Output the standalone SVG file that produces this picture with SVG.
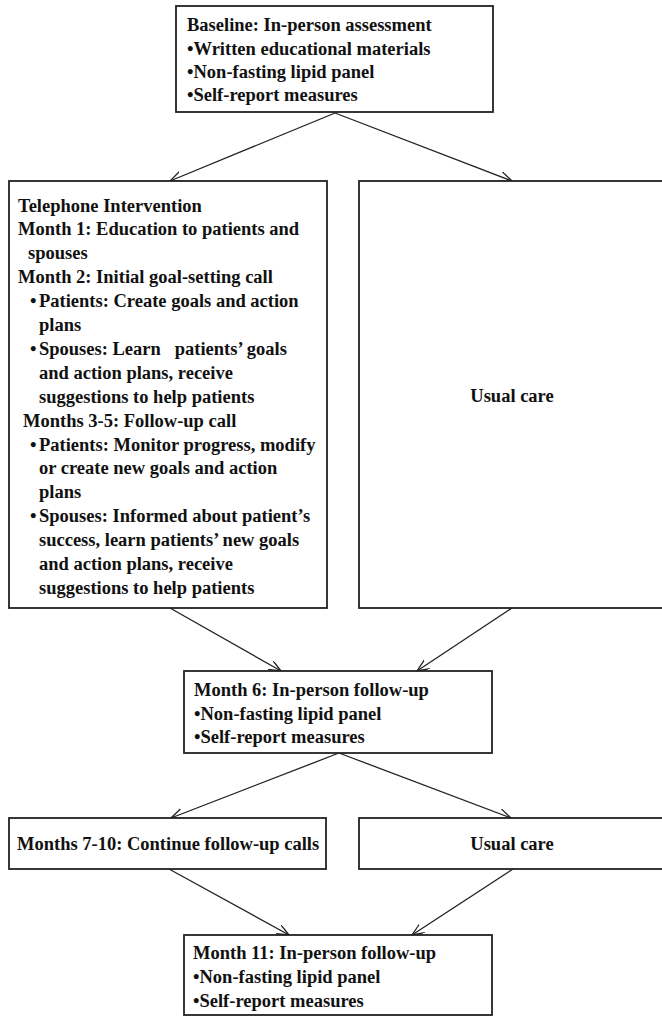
<svg xmlns="http://www.w3.org/2000/svg" width="662" height="1018" viewBox="0 0 662 1018">
<style>
.box{fill:#fff;stroke:#222;stroke-width:1.8}
.t{font-family:"Liberation Serif","Times New Roman",serif;font-weight:bold;font-size:18.5px;fill:#111}
.c{text-anchor:middle}
.conn{stroke:#222;stroke-width:1.3;fill:none;marker-end:url(#arr)}
</style>
<defs>
<marker id="arr" markerUnits="userSpaceOnUse" markerWidth="14" markerHeight="12" refX="12" refY="5" orient="auto">
<path d="M0,0 L12,5 L0,10" fill="none" stroke="#222" stroke-width="1.3"/>
</marker>
</defs>
<rect width="662" height="1018" fill="#fff"/>
<g id="connectors">
<line class="conn" x1="335" y1="113" x2="170" y2="181"/>
<line class="conn" x1="335" y1="113" x2="512" y2="181"/>
<line class="conn" x1="170" y1="608" x2="281" y2="671"/>
<line class="conn" x1="512" y1="608" x2="417" y2="671"/>
<line class="conn" x1="339" y1="753" x2="171" y2="818"/>
<line class="conn" x1="339" y1="753" x2="511" y2="818"/>
<line class="conn" x1="169" y1="869" x2="289" y2="935"/>
<line class="conn" x1="513" y1="869" x2="412" y2="935"/>
</g>
<g id="baseline">
<rect class="box" x="176" y="6" width="317" height="106"/>
<text class="t" x="187" y="31">Baseline: In-person assessment</text>
<text class="t" x="187" y="54.5">•Written educational materials</text>
<text class="t" x="187" y="77.5">•Non-fasting lipid panel</text>
<text class="t" x="187" y="100.5">•Self-report measures</text>
</g>
<g id="telephone">
<rect class="box" x="9" y="181" width="318" height="427"/>
<text class="t" x="18" y="211.5">Telephone Intervention</text>
<text class="t" x="18" y="235.4">Month 1: Education to patients and</text>
<text class="t" x="28" y="259.3">spouses</text>
<text class="t" x="18" y="283.2">Month 2: Initial goal-setting call</text>
<text class="t" x="30" y="307.1">•</text>
<text class="t" x="39" y="307.1">Patients: Create goals and action</text>
<text class="t" x="39" y="331">plans</text>
<text class="t" x="30" y="354.9">•</text>
<text class="t" x="39" y="354.9" xml:space="preserve">Spouses: Learn   patients’ goals</text>
<text class="t" x="39" y="378.8">and action plans, receive</text>
<text class="t" x="39" y="402.7">suggestions to help patients</text>
<text class="t" x="23" y="426.6">Months 3-5: Follow-up call</text>
<text class="t" x="30" y="450.5">•</text>
<text class="t" x="39" y="450.5">Patients: Monitor progress, modify</text>
<text class="t" x="39" y="474.4">or create new goals and action</text>
<text class="t" x="39" y="498.3">plans</text>
<text class="t" x="30" y="522.2">•</text>
<text class="t" x="39" y="522.2">Spouses: Informed about patient’s</text>
<text class="t" x="39" y="546.1">success, learn patients’ new goals</text>
<text class="t" x="39" y="570">and action plans, receive</text>
<text class="t" x="39" y="593.9">suggestions to help patients</text>
</g>
<g id="usualcare1">
<rect class="box" x="359" y="181" width="312" height="427"/>
<text class="t c" x="512" y="402">Usual care</text>
</g>
<g id="month6">
<rect class="box" x="184" y="671" width="308" height="82"/>
<text class="t" x="194" y="696">Month 6: In-person follow-up</text>
<text class="t" x="194" y="719.5">•Non-fasting lipid panel</text>
<text class="t" x="194" y="743">•Self-report measures</text>
</g>
<g id="months7-10">
<rect class="box" x="9" y="818" width="317" height="51"/>
<text class="t" x="17" y="850">Months 7-10: Continue follow-up calls</text>
</g>
<g id="usualcare2">
<rect class="box" x="359" y="818" width="312" height="51"/>
<text class="t c" x="512" y="850">Usual care</text>
</g>
<g id="month11">
<rect class="box" x="184" y="935" width="308" height="80"/>
<text class="t" x="193" y="959">Month 11: In-person follow-up</text>
<text class="t" x="193" y="983">•Non-fasting lipid panel</text>
<text class="t" x="193" y="1006.5">•Self-report measures</text>
</g>
</svg>
